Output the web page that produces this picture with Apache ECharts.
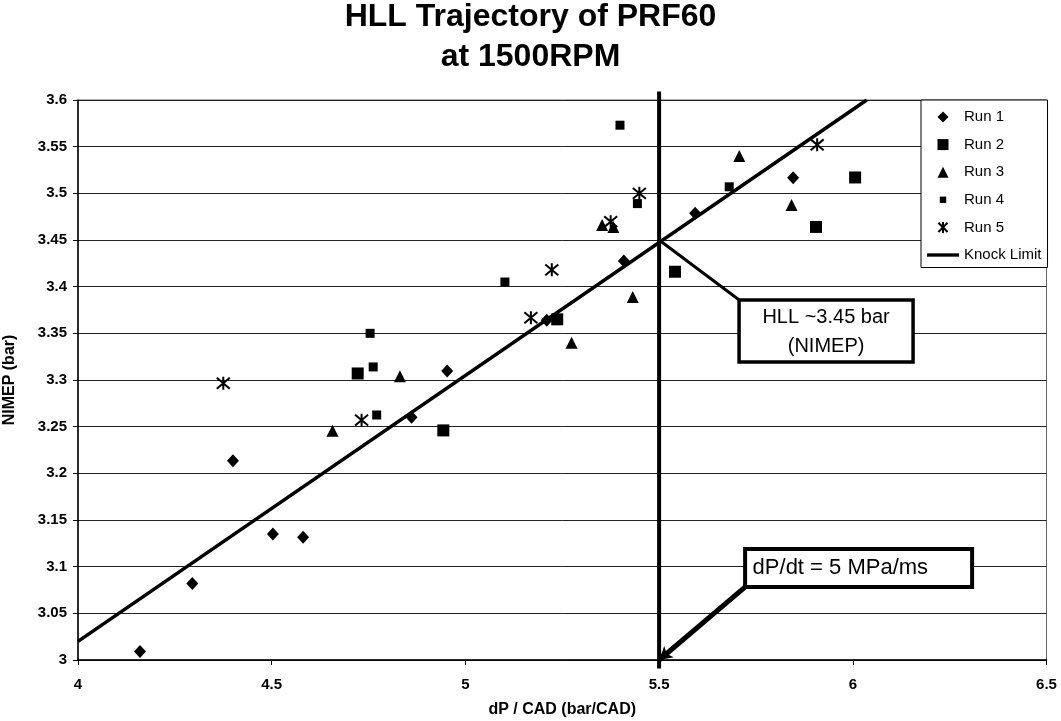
<!DOCTYPE html>
<html><head><meta charset="utf-8">
<script src="https://cdn.jsdelivr.net/npm/echarts@6/dist/echarts.min.js"></script>
<style>html,body{margin:0;padding:0;background:#fff}#c{width:1061px;height:721px}</style>
</head><body><div id="c"></div>
<script>
// ---- data ----
const run1 = [[4.160,3.009],[4.295,3.082],[4.400,3.2135],[4.503,3.135],[4.581,3.1315],[4.861,3.260],[4.953,3.3097],[5.210,3.364],[5.409,3.4275],[5.593,3.4786],[5.846,3.5168]];
const run2 = [[4.722,3.307],[4.943,3.246],[5.237,3.365],[5.541,3.416],[6.006,3.517],[5.905,3.464]];
const run3 = [[4.657,3.2457],[4.831,3.304],[5.274,3.340],[5.432,3.389],[5.353,3.466],[5.382,3.464],[5.707,3.540],[5.842,3.4875]];
const run4 = [[4.754,3.350],[4.762,3.314],[4.771,3.2625],[5.102,3.405],[5.399,3.573],[5.444,3.489],[5.681,3.507]];
const run5 = [[4.375,3.2965],[4.732,3.257],[5.169,3.3667],[5.223,3.418],[5.375,3.4696],[5.449,3.500],[5.908,3.552]];
const knockLimit = [[4.0,3.02],[6.036,3.6]];
const dpdtLimit = [[5.5,2.991],[5.5,3.609]];
const seriesNames = ['Run 1','Run 2','Run 3','Run 4','Run 5','Knock Limit'];
const xRange = {min:4, max:6.5, interval:0.5};
const yRange = {min:3, max:3.6, interval:0.05};
const titleLines = ['HLL Trajectory of PRF60','at 1500RPM'];
const xName = 'dP / CAD (bar/CAD)';
const yName = 'NIMEP (bar)';
// annotations (data coords)
const hllText = ['HLL ~3.45 bar','(NIMEP)'];
const hllBoxAt = [5.931,3.3525];
const hllPointer = [[5.5,3.45],[5.706,3.386]];
const dpdtText = ['dP/dt = 5 MPa/ms'];
const dpdtBoxAt = [6.015,3.0986];
const dpdtPointer = [[5.727,3.080],[5.5,3.0]];

// ---- chart ----
const FONT = '"Liberation Sans", Arial, sans-serif';
const chart = echarts.init(document.getElementById('c'), null, {renderer:'canvas'});
const starPath = 'path://M0,0L10,10M10,0L0,10M5,-1L5,11';
const icons = {
  diamond:'path://M5,0L10,5L5,10L0,5Z',
  square:'path://M0,0H10V10H0Z',
  triangle:'path://M5,0L10,10L0,10Z',
  small:'path://M0,0M12,12M2.5,2.5H9.5V9.5H2.5Z',
  star:starPath,
  line:'path://M0,0H40V4.2H0Z'
};
function scatter(name, data, symbol, size, extra) {
  return Object.assign({
    name, type:'scatter', data, symbol, symbolSize:size,
    itemStyle:{color:'#000', opacity:1},
    emphasis:{disabled:true}, z:5
  }, extra || {});
}
const legendIcons = [icons.diamond, icons.square, icons.triangle, icons.small, icons.star, icons.line];
chart.setOption({
  animation:false,
  backgroundColor:'#fff',
  title:{
    text:titleLines.join('\n'), left:'center', top:-3, padding:0,
    textStyle:{fontFamily:FONT, fontSize:32, fontWeight:'bold', color:'#000', lineHeight:40}
  },
  grid:{left:78, right:14.5, top:100, bottom:61, containLabel:false, outerBoundsMode:'none',
        show:true, borderColor:'#666', borderWidth:1},
  legend:{
    data:seriesNames.map((n,i)=>({name:n, icon:legendIcons[i]})),
    orient:'vertical', left:921, top:100, symbolKeepAspect:true,
    padding:[9.5,6,5,6], itemWidth:32, itemHeight:11, itemGap:12.6,
    borderColor:'#000', borderWidth:1, backgroundColor:'#fff',
    textStyle:{fontFamily:FONT, fontSize:15, color:'#000'}
  },
  xAxis:{
    type:'value', min:xRange.min, max:xRange.max, interval:xRange.interval,
    name:xName, nameLocation:'middle', nameGap:42,
    nameTextStyle:{fontFamily:FONT, fontSize:16, fontWeight:'bold', color:'#000'},
    axisLine:{lineStyle:{color:'#000', width:1.5}},
    axisTick:{show:true, length:5, lineStyle:{color:'#000'}},
    axisLabel:{fontFamily:FONT, fontSize:15, fontWeight:'bold', color:'#000', margin:17},
    splitLine:{show:false}
  },
  yAxis:{
    type:'value', min:yRange.min, max:yRange.max, interval:yRange.interval,
    name:yName, nameLocation:'middle', nameGap:60,
    nameTextStyle:{fontFamily:FONT, fontSize:16, fontWeight:'bold', color:'#000'},
    axisLine:{show:true, lineStyle:{color:'#000', width:1.5}},
    axisTick:{show:true, length:5, lineStyle:{color:'#000'}},
    axisLabel:{fontFamily:FONT, fontSize:15, fontWeight:'bold', color:'#000', margin:11},
    splitLine:{show:true, lineStyle:{color:'#222', width:1}}
  },
  series:[
    scatter('Run 1', run1, 'diamond', [12,13]),
    scatter('Run 2', run2, 'rect', 12),
    scatter('Run 3', run3, 'triangle', 12),
    scatter('Run 4', run4, 'rect', 9),
    scatter('Run 5', run5, starPath, 13, {itemStyle:{color:'#000', borderColor:'#000', borderWidth:2, opacity:1}}),
    {name:'Knock Limit', type:'line', data:knockLimit, symbol:'none', lineStyle:{color:'#000', width:3.5}, itemStyle:{color:'#000'}, z:4, emphasis:{disabled:true}},
    {name:'dPdt', type:'line', data:dpdtLimit, symbol:'none', clip:false, lineStyle:{color:'#000', width:4}, z:4, emphasis:{disabled:true}},
    {name:'hllPointer', type:'line', data:hllPointer, symbol:'none', lineStyle:{color:'#000', width:3}, z:4, emphasis:{disabled:true}},
    {name:'dpdtPointer', type:'line', data:[], clip:false, z:4,
      markLine:{silent:true, symbol:['none','arrow'], symbolSize:[11,13], label:{show:false},
        lineStyle:{color:'#000', width:5, type:'solid'},
        data:[[{coord:dpdtPointer[0]},{coord:dpdtPointer[1]}]]}}
  ]
});

// annotation boxes, placed from data coordinates
const p1 = chart.convertToPixel({gridIndex:0}, hllBoxAt);
const p2 = chart.convertToPixel({gridIndex:0}, dpdtBoxAt);
chart.setOption({
  graphic:[
    {type:'group', x:p1[0], y:p1[1], z:100, children:[
      {type:'rect', shape:{x:-87, y:-31, width:174, height:62}, style:{fill:'#fff', stroke:'#000', lineWidth:3.5}},
      {type:'text', style:{text:hllText.join('\n'), x:0, y:1, textAlign:'center', textVerticalAlign:'middle',
        fontFamily:FONT, fontSize:20, lineHeight:29, fill:'#000'}}
    ]},
    {type:'group', x:p2[0], y:p2[1], z:100, children:[
      {type:'rect', shape:{x:-113.5, y:-19, width:227, height:38}, style:{fill:'#fff', stroke:'#000', lineWidth:4}},
      {type:'text', style:{text:dpdtText.join('\n'), x:-106, y:0, textAlign:'left', textVerticalAlign:'middle',
        fontFamily:FONT, fontSize:22, fill:'#000'}}
    ]}
  ]
});
</script></body></html>
